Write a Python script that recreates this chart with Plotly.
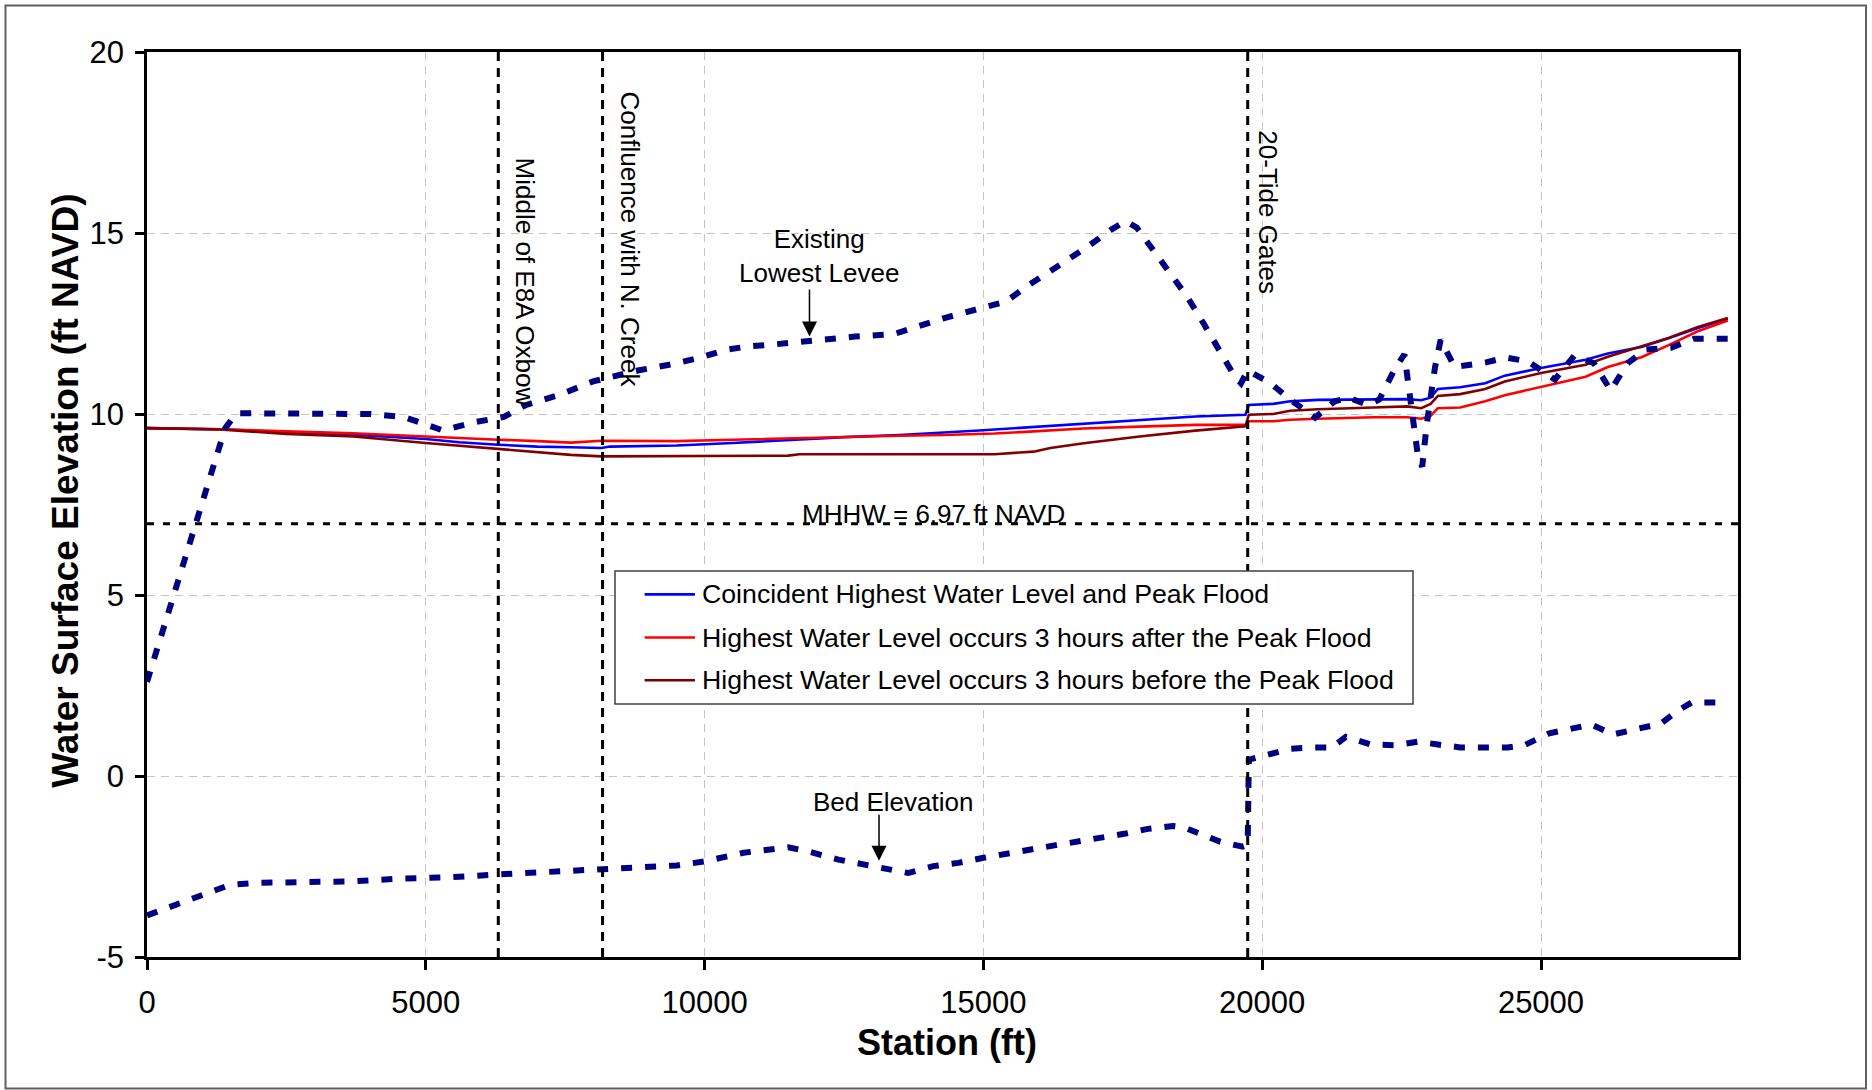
import plotly.graph_objects as go

# ---------------- data ----------------
# Water-surface profiles (station in ft, elevation in ft NAVD)
ws_station = [0, 1300, 2500, 3700, 5000, 5600, 6300, 7000, 7600, 8150, 8300, 9000, 9500,
              10500, 11500, 11700, 12500, 13500, 14300, 15000, 15200, 15900, 16200, 16800,
              17800, 18800, 19700, 19760, 20200, 20500, 21000, 22000, 22600, 22850, 23020,
              23150, 23550, 24000, 24350, 25000, 25800, 26200, 26800, 27300, 27800, 28350]
ws_coincident = [9.61, 9.58, 9.50, 9.43, 9.31, 9.22, 9.15, 9.10, 9.08, 9.06, 9.10, 9.12, 9.13,
                 9.20, 9.29, 9.30, 9.36, 9.42, 9.48, 9.55, 9.57, 9.64, 9.68, 9.74,
                 9.82, 9.93, 9.98, 10.25, 10.28, 10.35, 10.39, 10.40, 10.41, 10.38, 10.45,
                 10.69, 10.74, 10.85, 11.06, 11.27, 11.50, 11.67, 11.85, 12.10, 12.37, 12.63]
ws_after = [9.61, 9.58, 9.52, 9.47, 9.38, 9.33, 9.29, 9.25, 9.21, 9.26, 9.26, 9.25, 9.25,
            9.29, 9.33, 9.34, 9.37, 9.40, 9.42, 9.44, 9.46, 9.52, 9.55, 9.60,
            9.65, 9.70, 9.70, 9.80, 9.80, 9.84, 9.87, 9.91, 9.91, 9.87, 9.95,
            10.16, 10.18, 10.35, 10.52, 10.75, 11.03, 11.30, 11.57, 11.91, 12.28, 12.58]
ws_before = [9.61, 9.57, 9.45, 9.38, 9.20, 9.12, 9.03, 8.95, 8.87, 8.83, 8.83, 8.84, 8.84,
             8.85, 8.85, 8.89, 8.89, 8.89, 8.89, 8.89, 8.89, 8.96, 9.06, 9.19,
             9.38, 9.54, 9.66, 9.98, 10.00, 10.09, 10.13, 10.18, 10.21, 10.16, 10.28,
             10.50, 10.55, 10.69, 10.90, 11.13, 11.36, 11.58, 11.86, 12.11, 12.40, 12.65]

series_names = ["Coincident Highest Water Level and Peak Flood",
                "Highest Water Level occurs 3 hours after the Peak Flood",
                "Highest Water Level occurs 3 hours before the Peak Flood"]

# Existing lowest levee crest
levee_station = [0, 700, 1400, 1600, 4000, 4600, 5000, 5300, 5900, 6400, 6800, 7400, 8000,
                 8800, 9400, 9900, 10400, 10800, 11300, 11700, 12200, 12700, 13400, 13800,
                 14300, 14900, 15400, 15800, 16300, 16800, 17300, 17550, 17750, 18050, 18400,
                 18650, 18950, 19250, 19500, 19620, 19740, 20150, 20500, 20950, 21300, 21550,
                 21900, 22100, 22380, 22550, 22650, 22800, 22870, 22950, 23100, 23200, 23450,
                 24000, 24370, 24770, 25250, 25600, 25950, 26250, 26550, 26880, 27330, 27750,
                 28350]
levee_elev = [2.6, 6.05, 9.6, 10.02, 10.0, 9.92, 9.7, 9.55, 9.78, 9.92, 10.25, 10.53, 10.9,
              11.2, 11.37, 11.55, 11.78, 11.87, 11.93, 12.0, 12.07, 12.14, 12.21, 12.42,
              12.65, 12.9, 13.1, 13.55, 14.03, 14.55, 15.1, 15.33, 15.15, 14.5, 13.8,
              13.25, 12.5, 11.75, 11.05, 10.85, 11.2, 10.85, 10.4, 9.9, 10.35, 10.45,
              10.25, 10.4, 11.25, 11.65, 10.5, 8.75, 8.55, 9.7, 11.3, 12.05, 11.3,
              11.42, 11.56, 11.45, 10.95, 11.62, 11.4, 10.65, 11.4, 11.78, 11.83, 12.08,
              12.08]

# Channel bed
bed_station = [0, 600, 1100, 1500, 2000, 2800, 3700, 4600, 5400, 6300, 7100, 8000, 8700,
               9500, 10000, 10700, 11500, 11900, 12400, 12850, 13300, 13650, 14100, 14550,
               15000, 15450, 15850, 16300, 16700, 17150, 17550, 17950, 18400, 18600, 18850,
               19250, 19650, 19740, 19760, 20100, 20500, 20900, 21250, 21500, 21950, 22400,
               22800, 23150, 23550, 24400, 24700, 25150, 25500, 25900, 26300, 26700, 27150,
               27450, 27700, 28350]
bed_elev = [-3.85, -3.5, -3.23, -3.0, -2.95, -2.93, -2.91, -2.83, -2.8, -2.72, -2.65, -2.58, -2.54,
            -2.47, -2.36, -2.12, -1.97, -2.1, -2.31, -2.45, -2.6, -2.68, -2.49, -2.4,
            -2.26, -2.12, -2.03, -1.91, -1.82, -1.69, -1.59, -1.46, -1.38, -1.42, -1.57,
            -1.82, -1.95, -1.9, 0.45, 0.6, 0.75, 0.79, 0.79, 1.08, 0.87, 0.85,
            0.95, 0.87, 0.79, 0.79, 0.85, 1.18, 1.3, 1.42, 1.15, 1.28, 1.45,
            1.8, 2.03, 2.03]

# Reference locations along the channel
landmark_station = [6300, 8170, 19740]
landmark_label = ["Middle of E8A Oxbow", "Confluence with N. Creek", "20-Tide Gates"]
mhhw_elev = 6.97

x_ticks = [0, 5000, 10000, 15000, 20000, 25000]
x_tick_text = ["0", "5000", "10000", "15000", "20000", "25000"]
y_ticks = [-5, 0, 5, 10, 15, 20]
y_tick_text = ["-5", "0", "5", "10", "15", "20"]
x_range = [0, 28533]
y_range = [-5, 20]

FONT = "Arial, 'Liberation Sans', sans-serif"
NAVY = "#000080"
ws_colors = ["#0000FF", "#FF0000", "#800000"]

# plot-area geometry in pixels (used for paper-space placement)
W, H = 1872, 1090
L, R, T, B = 147, 134, 52, 133
PW, PH = W - L - R, H - T - B


def px(xp):
    return (xp - L) / PW


def py(yp):
    return (H - B - yp) / PH


# ---------------- figure ----------------
fig = go.Figure()

ws_series = [ws_coincident, ws_after, ws_before]
for vals, name, col in zip(ws_series, series_names, ws_colors):
    fig.add_trace(go.Scatter(
        x=ws_station, y=vals, mode="lines", name=name, showlegend=False,
        line=dict(color=col, width=2.6),
    ))

for xs, ys, nm in [(levee_station, levee_elev, "Existing Lowest Levee"),
                   (bed_station, bed_elev, "Bed Elevation")]:
    fig.add_trace(go.Scatter(
        x=xs, y=ys, mode="lines", name=nm, showlegend=False, hoverinfo="skip",
        line=dict(color=NAVY, width=6, dash="11px,13px"),
    ))

# Landmark verticals and MHHW datum line
for st in landmark_station:
    fig.add_shape(type="line", xref="x", yref="y", x0=st, x1=st, y0=y_range[0], y1=y_range[1],
                  line=dict(color="black", width=3, dash="9px,7px"))
fig.add_shape(type="line", xref="x", yref="y", x0=x_range[0], x1=x_range[1],
              y0=mhhw_elev, y1=mhhw_elev,
              line=dict(color="black", width=3, dash="7px,9px"))

# Outer frame of the figure
fig.add_shape(type="rect", xref="paper", yref="paper",
              x0=px(5.5), x1=px(1866), y0=py(1088.5), y1=py(5.5),
              line=dict(color="#606060", width=2), layer="below")

ann_font = dict(family=FONT, size=26, color="black")

# Landmark labels, rotated to read downward
label_shift = [27, 27, 20]
label_y = [13.65, 14.83, 15.58]
for st, txt, dx, yy in zip(landmark_station, landmark_label, label_shift, label_y):
    fig.add_annotation(x=st, y=yy, xref="x", yref="y", text=txt, showarrow=False,
                       textangle=90, xanchor="center", yanchor="middle", xshift=dx,
                       font=ann_font)

fig.add_annotation(x=14108, y=mhhw_elev, xref="x", yref="y",
                   text=f"MHHW = {mhhw_elev} ft NAVD", showarrow=False,
                   xanchor="center", yanchor="bottom", yshift=-7, font=ann_font)

# Callouts with arrows
fig.add_annotation(x=12050, y=14.37, xref="x", yref="y", text="Existing<br>Lowest Levee",
                   showarrow=False, xanchor="center", yanchor="middle", font=ann_font)
fig.add_annotation(x=11881, y=12.14, ax=11881, ay=13.48, xref="x", yref="y",
                   axref="x", ayref="y", text="", showarrow=True,
                   arrowhead=2, arrowsize=2.0, arrowwidth=1.5, arrowcolor="black")
fig.add_annotation(x=13380, y=-0.71, xref="x", yref="y", text="Bed Elevation",
                   showarrow=False, xanchor="center", yanchor="middle", font=ann_font)
fig.add_annotation(x=13128, y=-2.34, ax=13128, ay=-1.03, xref="x", yref="y",
                   axref="x", ayref="y", text="", showarrow=True,
                   arrowhead=2, arrowsize=2.0, arrowwidth=1.5, arrowcolor="black")

# Legend box drawn in paper space
leg_x0, leg_x1, leg_y0, leg_y1 = 615, 1413, 571, 704
fig.add_shape(type="rect", xref="paper", yref="paper",
              x0=px(leg_x0), x1=px(leg_x1), y0=py(leg_y1), y1=py(leg_y0),
              fillcolor="white", line=dict(color="#404040", width=1.5), layer="above")
row_y = [594.4, 637.5, 680.3]
for ry, name, col in zip(row_y, series_names, ws_colors):
    fig.add_shape(type="line", xref="paper", yref="paper",
                  x0=px(644.6), x1=px(695), y0=py(ry), y1=py(ry),
                  line=dict(color=col, width=2.6), layer="above")
    fig.add_annotation(x=px(700), y=py(ry), xref="paper", yref="paper", text=name,
                       showarrow=False, xanchor="left", yanchor="middle",
                       font=dict(family=FONT, size=26.7, color="black"))

# Axis titles
fig.add_annotation(x=px(947), y=py(1042), xref="paper", yref="paper", text="<b>Station (ft)</b>",
                   showarrow=False, xanchor="center", yanchor="middle",
                   font=dict(family=FONT, size=36, color="black"))
fig.add_annotation(x=px(65.7), y=py(491), xref="paper", yref="paper",
                   text="<b>Water Surface Elevation (ft NAVD)</b>", textangle=-90,
                   showarrow=False, xanchor="center", yanchor="middle",
                   font=dict(family=FONT, size=37, color="black"))

tick_font = dict(family=FONT, size=31, color="black")
grid = dict(showgrid=True, gridcolor="#C4C4C4", gridwidth=1.2, griddash="8px,6px")

fig.update_layout(
    width=W, height=H,
    margin=dict(l=L, r=R, t=T, b=B),
    paper_bgcolor="white", plot_bgcolor="white",
    font=dict(family=FONT, color="black"),
    showlegend=False,
    xaxis=dict(range=x_range, tickvals=x_ticks, ticktext=x_tick_text, ticks="outside",
               ticklen=10, tickwidth=2.5, tickcolor="black", showline=True, linecolor="black",
               linewidth=2.6, mirror=True, zeroline=False, tickfont=tick_font,
               ticklabelstandoff=6, **grid),
    yaxis=dict(range=y_range, tickvals=y_ticks, ticktext=y_tick_text, ticks="outside",
               ticklen=9, tickwidth=2.5, tickcolor="black", showline=True, linecolor="black",
               linewidth=2.6, mirror=True, zeroline=False, tickfont=tick_font,
               ticklabelstandoff=5, **grid),
    # inner tick marks every half-interval
    xaxis2=dict(range=x_range, overlaying="x", anchor="y", side="bottom", tick0=0, dtick=2500,
                ticks="inside", ticklen=7, tickwidth=2.5, tickcolor="black",
                showticklabels=False, showgrid=False, zeroline=False, showline=False),
    yaxis2=dict(range=y_range, overlaying="y", anchor="x", side="left", tick0=-5, dtick=2.5,
                ticks="inside", ticklen=7, tickwidth=2.5, tickcolor="black",
                showticklabels=False, showgrid=False, zeroline=False, showline=False),
)

fig.write_html("out.html")
